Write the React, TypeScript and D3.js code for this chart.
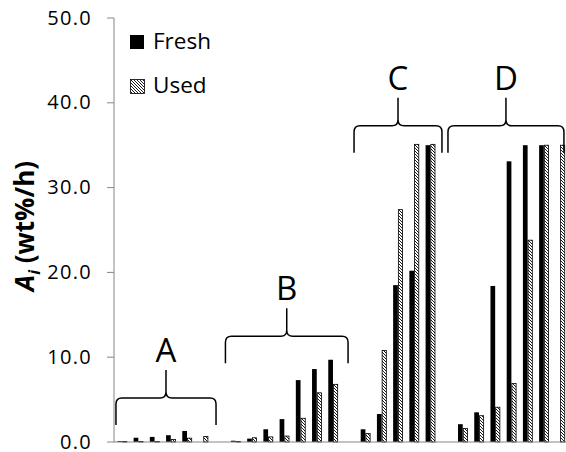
import React from "react";
import * as d3 from "d3";

// ---- data ----
const categories = [
  "A1", "A2", "A3", "A4", "A5", "A6", "gap1",
  "B1", "B2", "B3", "B4", "B5", "B6", "B7", "gap2",
  "C1", "C2", "C3", "C4", "C5", "gap3",
  "D1", "D2", "D3", "D4", "D5", "D6", "D7",
];
const freshValues: (number | null)[] = [
  0.1, 0.5, 0.6, 0.8, 1.3, 0, null,
  0.15, 0.4, 1.5, 2.7, 7.3, 8.6, 9.7, null,
  1.5, 3.3, 18.5, 20.2, 35.0, null,
  2.1, 3.5, 18.4, 33.1, 35.0, 35.0, 0,
];
const usedValues: (number | null)[] = [
  0.05, 0.05, 0.05, 0.3, 0.45, 0.65, null,
  0.05, 0.5, 0.6, 0.7, 2.8, 5.8, 6.8, null,
  1.0, 10.8, 27.4, 35.1, 35.1, null,
  1.6, 3.1, 4.1, 6.9, 23.8, 35.0, 35.0,
];
const seriesNames = ["Fresh", "Used"];
const yTicks = [0, 10, 20, 30, 40, 50];

// group annotations (braces), in category-index units and data units
const groupLabels = ["A", "B", "C", "D"];
const groupStart = [0.12, 6.87, 14.8, 20.59];
const groupEnd = [6.29, 14.43, 20.22, 27.74];
const groupBase = [2.0, 9.3, 34.1, 34.1];

const W = 566;
const H = 452;
const plotLeft = 114;
const bandW = 16.22;
const plotRight = plotLeft + bandW * categories.length;
const plotTop = 18;
const plotBottom = 442;

const FONT = "'Open Sans', 'Liberation Sans', sans-serif";
const AXIS = "#868686";

export default function App() {
  const x = d3
    .scaleBand<string>()
    .domain(categories)
    .range([plotLeft, plotRight])
    .padding(0);
  const xi = d3.scaleLinear().domain([0, categories.length]).range([plotLeft, plotRight]);
  const y = d3.scaleLinear().domain([0, 50]).range([plotBottom, plotTop]);
  const fmt = d3.format(".1f");
  const bw = x.bandwidth() * 0.29;

  const bracePath = (x1: number, x2: number, yb: number) => {
    const xm = (x1 + x2) / 2;
    const yh = yb - 27;
    const yt = yb - 55;
    const r = 6;
    const p = d3.path();
    p.moveTo(x1, yb);
    p.lineTo(x1, yh + r);
    p.quadraticCurveTo(x1, yh, x1 + r, yh);
    p.lineTo(xm - r, yh);
    p.quadraticCurveTo(xm, yh, xm, yh - r);
    p.lineTo(xm, yt);
    p.moveTo(xm, yh - r);
    p.quadraticCurveTo(xm, yh, xm + r, yh);
    p.lineTo(x2 - r, yh);
    p.quadraticCurveTo(x2, yh, x2, yh + r);
    p.lineTo(x2, yb);
    return p.toString();
  };

  return (
    <svg
      width={W}
      height={H}
      style={{ position: "absolute", left: 0, top: 0, background: "#fff" }}
    >
      <defs>
        <pattern id="hatch" patternUnits="userSpaceOnUse" width="3" height="3">
          <rect width="3" height="3" fill="#fff" />
          <path d="M-1,-1 L4,4 M-1,2 L1,4 M2,-1 L4,1" stroke="#000" strokeWidth="0.9" />
        </pattern>
      </defs>

      {/* bars */}
      {categories.map((c, i) => {
        const cx = (x(c) as number) + x.bandwidth() / 2;
        const f = freshValues[i];
        const u = usedValues[i];
        return (
          <g key={c}>
            {f !== null && f > 0 && (
              <rect
                x={cx - bw}
                y={y(f)}
                width={bw}
                height={y(0) - y(f)}
                fill="#000"
              />
            )}
            {u !== null && u > 0 && (
              <rect
                x={cx + 0.5}
                y={y(u)}
                width={bw - 0.5}
                height={y(0) - y(u)}
                fill="url(#hatch)"
                stroke="#000"
                strokeWidth={0.8}
              />
            )}
          </g>
        );
      })}

      {/* axes */}
      <line x1={plotLeft} x2={plotLeft} y1={plotTop} y2={plotBottom} stroke={AXIS} strokeWidth={1} />
      <line x1={plotLeft} x2={plotRight} y1={plotBottom} y2={plotBottom} stroke={AXIS} strokeWidth={1} />
      {yTicks.map((t) => (
        <g key={t}>
          <line x1={plotLeft - 7} x2={plotLeft} y1={y(t)} y2={y(t)} stroke={AXIS} strokeWidth={1} />
          <text
            x={plotLeft - 22}
            y={y(t)}
            dy="0.33em"
            textAnchor="end"
            fontFamily={FONT}
            fontSize={20}
            letterSpacing={1.3}
            fill="#000"
          >
            {fmt(t)}
          </text>
        </g>
      ))}

      {/* y title */}
      <text
        transform={`translate(34, 226) rotate(-90)`}
        textAnchor="middle"
        fontFamily={FONT}
        fontSize={26}
        fontWeight="bold"
        fill="#000"
      >
        <tspan fontStyle="italic">A</tspan>
        <tspan fontStyle="italic" fontSize={16} dy={6}>i</tspan>
        <tspan dy={-6}> (wt%/h)</tspan>
      </text>

      {/* braces */}
      {groupLabels.map((g, i) => {
        const x1 = xi(groupStart[i]);
        const x2 = xi(groupEnd[i]);
        const yb = y(groupBase[i]);
        return (
          <g key={g}>
            <path d={bracePath(x1, x2, yb)} fill="none" stroke="#000" strokeWidth={1.5} />
            <text
              x={(x1 + x2) / 2}
              y={yb - 63}
              textAnchor="middle"
              fontFamily={FONT}
              fontSize={33}
              fill="#000"
            >
              {g}
            </text>
          </g>
        );
      })}

      {/* legend */}
      <rect x={130} y={35} width={14} height={14} fill="#000" />
      <text x={153} y={49} fontFamily={FONT} fontSize={22.5} fill="#000">
        {seriesNames[0]}
      </text>
      <rect x={130.5} y={79.5} width={14} height={14} fill="url(#hatch)" stroke="#000" strokeWidth={0.8} />
      <text x={153} y={93} fontFamily={FONT} fontSize={22.5} fill="#000">
        {seriesNames[1]}
      </text>
    </svg>
  );
}
